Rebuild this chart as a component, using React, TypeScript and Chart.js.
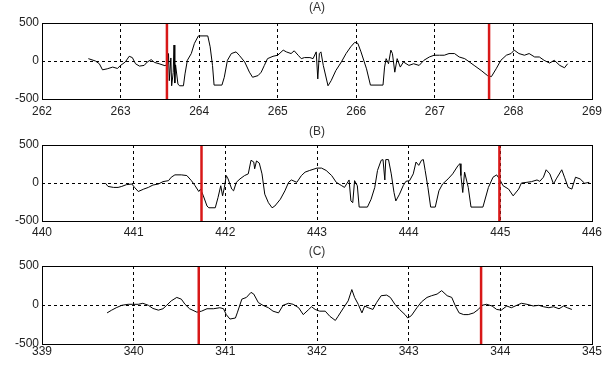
import React, { useEffect, useRef } from "react";
import { Chart, registerables } from "chart.js";
Chart.register(...registerables);

// ---------- Panel A ----------
const aRange = [262, 269];
const aRed = [263.59, 267.69];
const aX = [262.59, 262.68, 262.73, 262.77, 262.83, 262.9, 262.96, 263.0, 263.06, 263.11, 263.15, 263.19, 263.24, 263.3, 263.34, 263.39, 263.43, 263.49, 263.565,
  263.6, 263.61, 263.62, 263.64, 263.65, 263.67, 263.68, 263.69, 263.7, 263.73, 263.75, 263.8, 263.82, 263.85, 263.9, 263.94, 263.99, 264.11, 264.14, 264.17, 264.19, 264.29, 264.32, 264.36, 264.41, 264.47, 264.51, 264.58, 264.64, 264.68, 264.75, 264.79, 264.83, 264.87, 264.94, 265.0, 265.07, 265.11, 265.17, 265.21, 265.26, 265.3, 265.34, 265.41,
  265.45, 265.49, 265.51, 265.53, 265.55, 265.58, 265.64, 265.68, 265.74, 265.81, 265.87, 265.93, 265.98, 266.02, 266.06, 266.13, 266.18, 266.34, 266.36, 266.38, 266.41, 266.44, 266.46, 266.49, 266.52, 266.56, 266.6, 266.67, 266.73, 266.8, 266.86, 266.93, 266.99, 267.06, 267.12, 267.18, 267.25, 267.31, 267.38, 267.44, 267.5, 267.59, 267.67, 267.72, 267.78, 267.84, 267.91, 267.97, 268.01, 268.07, 268.14, 268.2, 268.27, 268.33, 268.39, 268.46, 268.52, 268.59, 268.65, 268.69];
const aY = [31, 0, -36, -116, -103, -80, -98, -58, -13, 62, 45, -36, -67, -58, -13, 18, -18, -36, -62,
  -40, 98, -259, 40, -326, -150, 210, -290, -50, -303, -326, -326, -170, 9, 98, 232, 330, 330, 187, -58, -317, -317, -214, 9, 98, 120, 76, -13, -147, -214, -192, -147, -58, 31, 62, 76, 143, 120, 98, 134, 76, 31, 45, 45,
  31, 120, -236, 98, 120, -58, -326, -259, -125, -13, 98, 187, 245, 232, 120, -103, -317, -317, -80, 31, -36, 143, 98, -147, 31, -80, -13, -58, -36, -58, 9, 53, 76, 76, 76, 98, 98, 53, 31, -13, -58, -125, -192, -205, -103, 9, 76, 98, 143, 98, 76, 98, 53, 53, 9, -27, 9, -58, -89, -36];

// ---------- Panel B ----------
const bRange = [440, 446];
const bRed = [441.74, 444.99];
const bX = [440.69, 440.72, 440.78, 440.83, 440.87, 440.92, 440.98, 441.01, 441.05, 441.11, 441.16, 441.21, 441.27, 441.32, 441.38, 441.41, 441.45, 441.52, 441.58, 441.63, 441.67, 441.71, 441.73, 441.76, 441.8, 441.82, 441.89, 441.92, 441.95, 441.97, 441.99, 442.01, 442.03, 442.07, 442.09, 442.12, 442.16, 442.21, 442.25, 442.28, 442.31, 442.32, 442.34, 442.37, 442.4, 442.43, 442.47, 442.51, 442.54, 442.6, 442.65, 442.69, 442.72, 442.78, 442.83, 442.87, 442.92,
  443.0, 443.05, 443.1, 443.16, 443.21, 443.27, 443.3, 443.35, 443.37, 443.39, 443.41, 443.44, 443.46, 443.55, 443.59, 443.63, 443.66, 443.7, 443.72, 443.74, 443.75, 443.78, 443.81, 443.84, 443.86, 443.9, 443.94, 443.97, 444.01, 444.05, 444.08, 444.11, 444.14, 444.16, 444.18, 444.21, 444.24, 444.29, 444.33, 444.37, 444.43, 444.48, 444.54, 444.56, 444.57, 444.59, 444.61, 444.65, 444.68, 444.81, 444.87, 444.92, 444.96, 444.99, 445.03, 445.09, 445.14, 445.2, 445.23, 445.29, 445.34, 445.4, 445.43, 445.47, 445.5, 445.54, 445.58, 445.61, 445.67, 445.7, 445.74, 445.78, 445.82, 445.87, 445.92, 445.97];
const bY = [0, -45, -58, -58, -45, -22, -13, -58, -112, -80, -58, -27, -13, 18, 31, 76, 107, 107, 98, 31, -36, -112, -80, -169, -303, -326, -326, -192, -36, -169, -58, 98, 54, -80, -103, 9, 54, 98, 120, 299, 276, 187, 290, 263, 120, -147, -259, -326, -303, -214, -103, 9, 40, 9, 98, 143, 165,
  196, 196, 165, 98, 9, -36, -58, 40, -236, -259, 31, -36, -317, -317, -214, -58, 165, 299, 308, 40, 308, 308, 120, -125, -236, -147, -36, 22, 31, 120, 276, 232, 299, 308, 165, -58, -317, -317, -103, -13, 54, 120, 232, 254, 98, -125, 143, -58, -317, -317, -58, 76, 107, 54, -36, -80, -169, -80, 0, 9, 18, 40, 22, 76, 174, 120, -13, 54, 174, 76, -58, -80, 76, 54, -4, 9];

// ---------- Panel C ----------
const cRange = [339, 345];
const cRed = [340.71, 343.79];
const cX = [339.71, 339.76, 339.81, 339.87, 339.94, 339.99, 340.05, 340.1, 340.16, 340.21, 340.27, 340.32, 340.36, 340.41, 340.47, 340.52, 340.56, 340.61, 340.69, 340.74, 340.8, 340.87, 340.94, 340.98, 341.01, 341.05, 341.11, 341.13, 341.18, 341.23, 341.28, 341.31, 341.36, 341.41, 341.47, 341.52, 341.58, 341.63, 341.69, 341.74, 341.8, 341.85,
  341.91, 341.94, 341.98, 342.03, 342.09, 342.14, 342.2, 342.23, 342.29, 342.34, 342.38, 342.41, 342.45, 342.49, 342.52, 342.56, 342.61, 342.65, 342.7, 342.76, 342.8, 342.85, 342.9, 342.96, 342.99, 343.03, 343.09, 343.14, 343.2, 343.25, 343.31, 343.36, 343.42, 343.47, 343.51, 343.55, 343.6, 343.65, 343.71, 343.76, 343.8, 343.85, 343.91, 343.96, 344.01, 344.07, 344.12, 344.18, 344.23, 344.29, 344.36, 344.42, 344.47, 344.53, 344.58, 344.64, 344.69, 344.73, 344.78];
const cY = [-101, -66, -35, -4, 9, 9, 9, 22, -4, -44, -66, -48, -4, 53, 97, 75, 9, -48, -92, -79, -48, -48, -35, -48, -123, -180, -167, -101, 75, 97, 162, 140, 31, -4, -35, -79, -101, -4, 22, 9, -35, -123,
  -57, -22, -57, -79, -79, -145, -198, -145, -35, 53, 198, 97, 9, -101, -13, -35, -57, 31, 119, 127, 97, 9, -57, -123, -167, -136, -35, 40, 97, 119, 140, 184, 119, 97, -13, -101, -123, -123, -101, -57, -4, 9, -13, -57, -66, -13, -35, -4, 22, 9, -13, -4, -22, -35, -22, -48, -13, -35, -57];

const yTicks = [-500, 0, 500];

const framePlugin = {
  id: "frame",
  afterDatasetsDraw(chart: any, _args: any, opts: any) {
    const { ctx, chartArea: a } = chart;
    ctx.save();
    ctx.setLineDash([]);
    ctx.strokeStyle = "#000";
    ctx.lineWidth = 1;
    ctx.strokeRect(Math.round(a.left) + 0.5, Math.round(a.top) + 0.5, Math.round(a.right - a.left), Math.round(a.bottom - a.top));
    ctx.fillStyle = "#333";
    ctx.font = '12px "Liberation Sans", Arial, sans-serif';
    ctx.textAlign = "center";
    ctx.textBaseline = "middle";
    ctx.fillText(opts.title, (a.left + a.right) / 2, a.top - opts.offset);
    ctx.restore();
  },
};

type PanelProps = {
  xs: number[]; ys: number[]; reds: number[]; range: number[];
  title: string; top: number; height: number; areaTop: number; xAxisH: number; titleOffset: number; labelPad: number;
};

function Panel(p: PanelProps) {
  const ref = useRef<HTMLCanvasElement>(null);
  useEffect(() => {
    if (!ref.current) return;
    const redSets = p.reds.map((r) => ({
      data: [{ x: r, y: yTicks[0] }, { x: r, y: yTicks[2] }],
      borderColor: "#d81818",
      borderWidth: 2.5,
      pointRadius: 0,
      tension: 0,
    }));
    const chart = new Chart(ref.current, {
      type: "line",
      data: {
        datasets: [
          ...redSets,
          {
            data: p.xs.map((x, i) => ({ x, y: p.ys[i] })),
            borderColor: "#000",
            borderWidth: 1,
            pointRadius: 0,
            tension: 0,
          },
        ],
      },
      options: {
        animation: false,
        responsive: false,
        devicePixelRatio: 1,
        layout: { padding: { top: p.areaTop, right: 21, bottom: 0, left: 0 } },
        plugins: {
          legend: { display: false },
          tooltip: { enabled: false },
          frame: { title: p.title, offset: p.titleOffset },
        } as any,
        scales: {
          x: {
            type: "linear",
            min: p.range[0],
            max: p.range[1],
            ticks: {
              stepSize: 1,
              color: "#222",
              font: { size: 12, family: '"Liberation Sans", Arial, sans-serif' },
              padding: p.labelPad,
              maxRotation: 0,
              callback: (v: any) => String(v),
            },
            grid: { color: "#000", lineWidth: 1, drawTicks: false },
            border: { display: false, dash: [3, 3] },
            afterFit: (s: any) => { s.height = p.xAxisH; },
          },
          y: {
            min: yTicks[0],
            max: yTicks[2],
            ticks: {
              stepSize: 500,
              color: "#222",
              font: { size: 12, family: '"Liberation Sans", Arial, sans-serif' },
              padding: 3,
              callback: (v: any) => String(v),
            },
            grid: { color: "#000", lineWidth: 1, drawTicks: false },
            border: { display: false, dash: [3, 3] },
            afterFit: (s: any) => { s.width = 42; },
          },
        },
      },
      plugins: [framePlugin],
    });
    return () => chart.destroy();
  }, []);
  return (
    <canvas
      ref={ref}
      width={613}
      height={p.height}
      style={{ position: "absolute", left: 0, top: p.top, width: 613, height: p.height, display: "block" }}
    />
  );
}

export default function App() {
  return (
    <div style={{ position: "absolute", left: 0, top: 0, width: 613, height: 366, background: "#fff", overflow: "hidden" }}>
      <Panel xs={aX} ys={aY} reds={aRed} range={aRange} title="(A)" top={0} height={120} areaTop={23} xAxisH={21} titleOffset={15} labelPad={5} />
      <Panel xs={bX} ys={bY} reds={bRed} range={bRange} title="(B)" top={120} height={125} areaTop={25} xAxisH={24} titleOffset={13} labelPad={4} />
      <Panel xs={cX} ys={cY} reds={cRed} range={cRange} title="(C)" top={245} height={121} areaTop={21} xAxisH={22} titleOffset={14} labelPad={0} />
    </div>
  );
}
